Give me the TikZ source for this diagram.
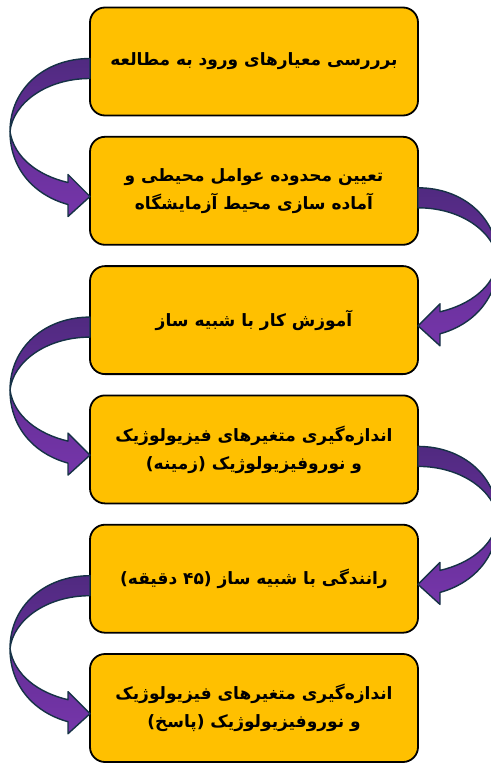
\documentclass[tikz,border=0pt]{standalone}
\usepackage{fontspec}
\newfontfamily\arabicfont[Script=Arabic]{DejaVu Sans}
\TeXXeTstate=1
\usepackage{tikz}
\usetikzlibrary{positioning}

\definecolor{boxColor}{RGB}{255,192,0}
\definecolor{arrowDark}{RGB}{80,42,128}
\definecolor{arrowMid}{RGB}{100,46,150}
\definecolor{arrowLight}{RGB}{118,54,170}
\definecolor{arrowLine}{RGB}{22,50,70}

\begin{document}
\begin{tikzpicture}[x=1pt,y=-1pt,
  stageBox/.style={draw=black,line width=1.8pt,fill=boxColor,rounded corners=15pt,
    minimum width=328pt,minimum height=108pt,outer sep=0pt,align=center,
    font=\arabicfont\bfseries\fontsize{17}{28}\selectfont},
  arrowBack/.style={draw=arrowLine,line width=1.4pt,line join=round,top color=arrowDark,bottom color=arrowMid},
  arrowFront/.style={draw=arrowLine,line width=1.4pt,line join=round,top color=arrowMid,bottom color=arrowLight}]
\useasboundingbox (0,0) rectangle (490,763);
\node[stageBox] (s1) at (254,61.5) {\beginR برررسی معیارهای ورود به مطالعه\endR};
\node[stageBox,below=21.3pt of s1] (s2) {\beginR تعیین محدوده عوامل محیطی و\endR\\\beginR آماده سازی محیط آزمایشگاه\endR};
\node[stageBox,below=21.3pt of s2] (s3) {\beginR آموزش کار با شبیه ساز\endR};
\node[stageBox,below=21.3pt of s3] (s4) {\beginR اندازه‌گیری متغیرهای فیزیولوژیک\endR\\\beginR و نوروفیزیولوژیک (زمینه)\endR};
\node[stageBox,below=21.3pt of s4] (s5) {\beginR رانندگی با شبیه ساز (۴۵ دقیقه)\endR};
\node[stageBox,below=21.3pt of s5] (s6) {\beginR اندازه‌گیری متغیرهای فیزیولوژیک\endR\\\beginR و نوروفیزیولوژیک (پاسخ)\endR};
% curved arrows on the left
\foreach \a in {s1,s3,s5}
{
  \begin{scope}[shift={(\a.west)}]
    \draw[arrowBack] (0,-3) .. controls (-45,-3) and (-80,27) .. (-80,70)
      .. controls (-77,42) and (-44,17) .. (0,17) -- cycle;
    \draw[arrowFront] (-80,70) .. controls (-80,108) and (-55,134) .. (-22,143)
      -- (-22,155) -- (0,135) -- (-22,113) -- (-22,121)
      .. controls (-52,114) and (-76,96) .. (-80,70) -- cycle;
  \end{scope}
}
% curved arrows on the right
\foreach \a in {s2,s4}
{
  \begin{scope}[shift={(\a.east)},xscale=-1]
    \draw[arrowBack] (0,-3) .. controls (-45,-3) and (-80,27) .. (-80,70)
      .. controls (-77,42) and (-44,17) .. (0,17) -- cycle;
    \draw[arrowFront] (-80,70) .. controls (-80,108) and (-55,134) .. (-22,143)
      -- (-22,155) -- (0,135) -- (-22,113) -- (-22,121)
      .. controls (-52,114) and (-76,96) .. (-80,70) -- cycle;
  \end{scope}
}
\end{tikzpicture}
\end{document}
